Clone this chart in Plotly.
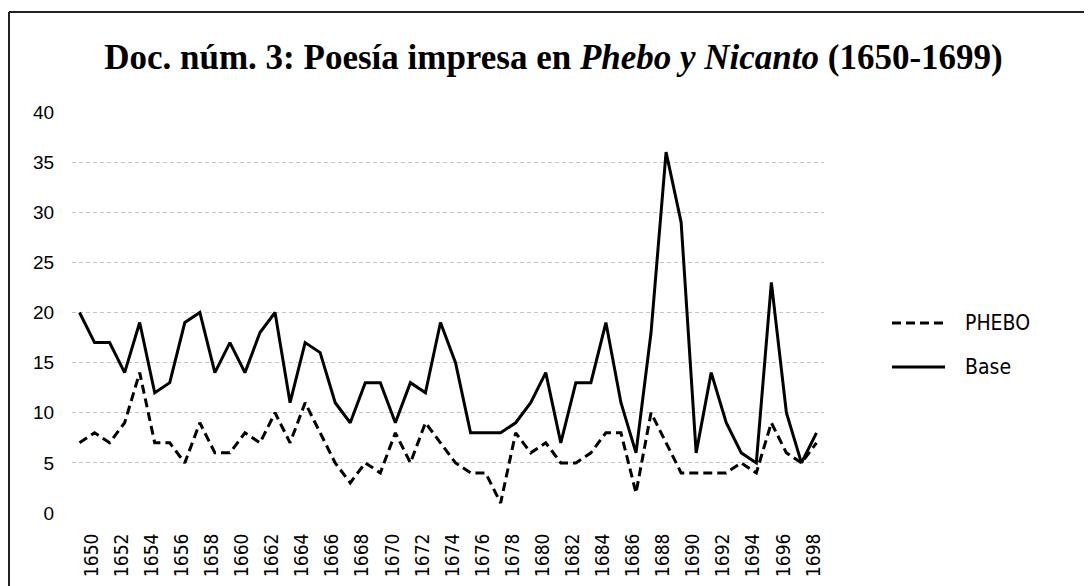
import plotly.graph_objects as go

years = list(range(1650, 1700))
base = [20, 17, 17, 14, 19, 12, 13, 19, 20, 14,
        17, 14, 18, 20, 11, 17, 16, 11, 9, 13,
        13, 9, 13, 12, 19, 15, 8, 8, 8, 9,
        11, 14, 7, 13, 13, 19, 11, 6, 18, 36,
        29, 6, 14, 9, 6, 5, 23, 10, 5, 8]
phebo = [7, 8, 7, 9, 14, 7, 7, 5, 9, 6,
         6, 8, 7, 10, 7, 11, 8, 5, 3, 5,
         4, 8, 5, 9, 7, 5, 4, 4, 1, 8,
         6, 7, 5, 5, 6, 8, 8, 2, 10, 7,
         4, 4, 4, 4, 5, 4, 9, 6, 5, 7]
tick_years = years[::2]
tick_labels = [str(y) for y in tick_years]
y_ticks = [0, 5, 10, 15, 20, 25, 30, 35, 40]
series_names = ["PHEBO", "Base"]

# the page has an 8px body margin, so the figure is sized to fit the window
OFF = 8
W, H = 1092 - OFF, 586 - OFF
ML, MR, MT, MB = 72 - OFF, 268, 112 - OFF, 73
PW, PH = W - ML - MR, H - MT - MB
LABEL_SHIFT = 0.8  # rotated labels sit slightly right of their category

NARROW = "Liberation Sans Narrow, DejaVu Sans Condensed, Arial Narrow, Liberation Sans, Arial"
SANS = "Liberation Sans, Arial, sans-serif"


def px_x(p):  # screen pixel -> paper fraction
    return (p - OFF - ML) / PW


def px_y(p):
    return (H - MB - (p - OFF)) / PH


fig = go.Figure()
fig.add_trace(go.Scatter(x=years, y=phebo, mode="lines", name=series_names[0],
                         line=dict(color="black", width=3, dash="9px,5px"),
                         showlegend=False))
fig.add_trace(go.Scatter(x=years, y=base, mode="lines", name=series_names[1],
                         line=dict(color="black", width=3),
                         showlegend=False))

# manual legend (longer line samples, as in the original)
legend_rows = [(series_names[0], "9px,5px", 323), (series_names[1], "solid", 367)]
shapes = []
annotations = []
for name, dash, ypx in legend_rows:
    shapes.append(dict(type="line", xref="paper", yref="paper",
                       x0=px_x(892), x1=px_x(945), y0=px_y(ypx), y1=px_y(ypx),
                       line=dict(color="black", width=3, dash=dash)))
    annotations.append(dict(text=name, xref="paper", yref="paper",
                            x=px_x(963), y=px_y(ypx), xanchor="left", yanchor="middle",
                            showarrow=False, font=dict(family=NARROW, size=21, color="black")))

# page frame (top and left border of the scanned box)
shapes.append(dict(type="line", xref="paper", yref="paper",
                   x0=px_x(9), x1=px_x(1100), y0=px_y(12), y1=px_y(12),
                   line=dict(color="#222", width=2)))
shapes.append(dict(type="line", xref="paper", yref="paper",
                   x0=px_x(9), x1=px_x(9), y0=px_y(12), y1=px_y(600),
                   line=dict(color="#222", width=2)))

fig.update_layout(
    width=W, height=H,
    margin=dict(l=ML, r=MR, t=MT, b=MB, pad=0, autoexpand=False),
    paper_bgcolor="white", plot_bgcolor="white",
    title=dict(text="<b>Doc. núm. 3: Poesía impresa en <i>Phebo y Nicanto</i> (1650-1699)</b>",
               x=(553.5 - OFF) / W, xanchor="center", xref="container",
               y=1 - (56.5 - OFF) / H, yanchor="middle", yref="container",
               font=dict(family="Liberation Serif, Times New Roman, serif", size=35, color="black")),
    shapes=shapes, annotations=annotations,
    showlegend=False,
)
fig.update_xaxes(range=[1649.5, 1699.5], tickmode="array", automargin=False,
                 tickvals=[y + LABEL_SHIFT for y in tick_years], ticktext=tick_labels,
                 tickangle=-90, showgrid=False, zeroline=False, showline=False,
                 ticks="outside", ticklen=12, tickcolor="rgba(0,0,0,0)",
                 tickfont=dict(family=NARROW, size=19, color="black"))
fig.update_yaxes(range=[0, 40], tickmode="array", tickvals=y_ticks, automargin=False,
                 showgrid=True, gridcolor="#c4c4c4", gridwidth=1, griddash="4px,3px",
                 zeroline=False, showline=False,
                 ticks="outside", ticklen=13, tickcolor="rgba(0,0,0,0)",
                 tickfont=dict(family=SANS, size=19, color="black"))

fig.write_html("out.html")
